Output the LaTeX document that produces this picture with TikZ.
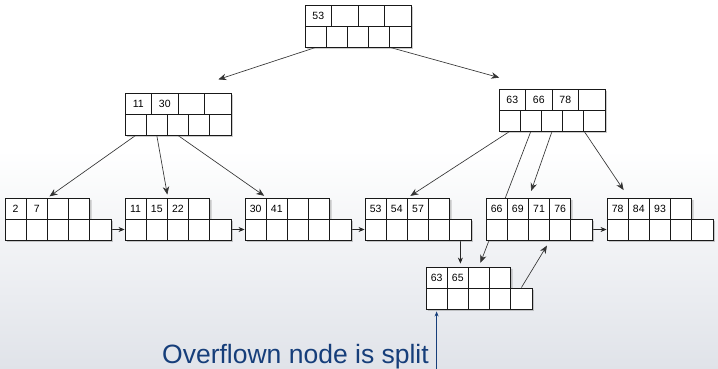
\documentclass[tikz,border=0pt]{standalone}
\usepackage{fontspec}
\setmainfont{Liberation Sans}
\usetikzlibrary{arrows.meta,calc,shadows}
\definecolor{splitblue}{RGB}{22,62,122}
\definecolor{bgbottom}{RGB}{224,227,233}
\pgfdeclarelayer{bg}
\pgfdeclarelayer{edges}
\pgfsetlayers{bg,edges,main}

% one B+ tree page: name, left x, top y, key cell width, keys
\newcommand{\bpnode}[5]{%
  \path[fill=white, drop shadow={shadow xshift=1.8pt, shadow yshift=-1.8pt, opacity=0.4}]
    (#2,#3) -- ++(4*#4,0) -- ++(0,21) -- (#2+106,#3+21) -- ++(0,21) -- (#2,#3+42) -- cycle;
  \foreach \key [count=\i] in {#5}
    \node[keycell, minimum width=#4pt] (#1-k\i) at (#2+\i*#4-0.5*#4, #3+10.5) {\key};
  \foreach \i in {1,...,5}
    \node[ptrcell] (#1-p\i) at (#2+\i*21.2-10.6, #3+31.5) {};
}

\begin{document}
\begin{tikzpicture}[x=1pt, y=-1pt,
    keycell/.style={draw=black!90, fill=white, line width=0.9pt, minimum height=21pt,
      inner sep=0pt, font=\fontsize{10.5}{12}\selectfont},
    ptrcell/.style={keycell, minimum width=21.2pt},
    treeedge/.style={draw=black!80, line width=0.65pt, -{Stealth[length=8pt,width=6.5pt]}},
    nextptr/.style={draw=black!85, line width=0.65pt, -{Stealth[length=6pt,width=5pt]}},
    splitarrow/.style={draw=splitblue, line width=0.9pt, -{Stealth[length=5pt,width=4pt]}},
    caption/.style={text=splitblue, inner sep=0pt, font=\fontsize{26.5}{30}\selectfont}]
  \useasboundingbox (0,0) rectangle (718,369);
  \begin{pgfonlayer}{bg}
    \fill[white] (0,0) rectangle (718,369);
    \shade[top color=white, bottom color=bgbottom] (0,150) rectangle (718,369);
  \end{pgfonlayer}

  \bpnode{root}{305}{5}{26.5}{53,{},{},{}}
  \bpnode{lft}{125}{93}{26.5}{11,30,{},{}}
  \bpnode{rgt}{499}{89}{26.5}{63,66,78,{}}

  \bpnode{l1}{5}{198}{21.2}{2,7,{},{}}
  \bpnode{l2}{125}{198}{21.2}{11,15,22,{}}
  \bpnode{l3}{245}{198}{21.2}{30,41,{},{}}
  \bpnode{l4}{365}{198}{21.2}{53,54,57,{}}
  \bpnode{l5}{486}{198}{21.2}{66,69,71,76}
  \bpnode{l6}{607}{198}{21.2}{78,84,93,{}}
  \bpnode{ov}{426}{267}{21.2}{63,65,{},{}}

  \begin{pgfonlayer}{edges}
    \draw[treeedge, shorten >=42pt] (root-p1.south) -- (lft-k2.north east);
    \draw[treeedge, shorten >=41pt] (root-p4.south east) -- (rgt-k2.north);

    \draw[treeedge, shorten >=2pt] (lft-p1.south) -- (l1-k2.north east);
    \draw[treeedge, shorten >=3pt] (lft-p2.south) -- (l2-k2.north east);
    \draw[treeedge, shorten >=3pt] (lft-p3.south) -- (l3-k1.north east);

    \draw[treeedge, shorten >=3pt] (rgt-p1.south) -- (l4-k2.north east);
    \draw[treeedge, shorten >=4pt] (rgt-p2.south) -- (ov-k3.north);
    \draw[treeedge, shorten >=7pt] (rgt-p3.south) -- (l5-k2.north east);
    \draw[treeedge, shorten >=9pt] (rgt-p4.south east) -- (l6-k1.north east);

    \draw[nextptr] (l1-p5.east) -- (l2-p1.west);
    \draw[nextptr] (l2-p5.east) -- (l3-p1.west);
    \draw[nextptr] (l3-p5.east) -- (l4-p1.west);
    \draw[nextptr, shorten >=3pt] (l4-p5.south) -- (l4-p5.south |- ov-k2.north);
    \draw[nextptr] (l5-p5.east) -- (l6-p1.west);
    \draw[treeedge, shorten >=6pt] (ov-p5.north) -- (l5-p3.south east);
  \end{pgfonlayer}

  \node[caption, anchor=base west] (caption) at (162,363) {Overflown node is split};
  \coordinate (bottomedge) at (0,369);
  \draw[splitarrow, shorten >=2pt] (ov-p1.south |- bottomedge) -- (ov-p1.south);
\end{tikzpicture}
\end{document}
